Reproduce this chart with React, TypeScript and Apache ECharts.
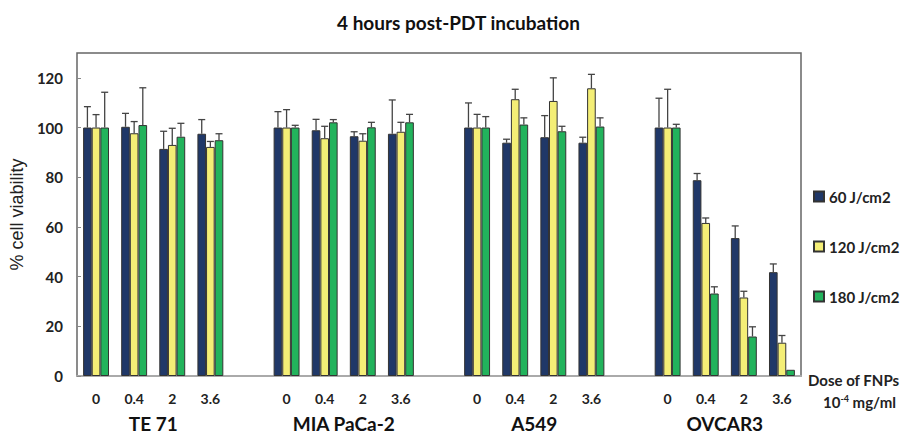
import React, { useEffect, useRef } from "react";
import * as echarts from "echarts";

const cellLines = ["TE 71", "MIA PaCa-2", "A549", "OVCAR3"];
const doses = ["0", "0.4", "2", "3.6"];
const seriesNames = ["60 J/cm2", "120 J/cm2", "180 J/cm2"];

const v60 = [100, 100.3, 91.4, 97.5, 100, 98.9, 96.5, 97.5, 100, 93.9, 96.1, 93.9, 100, 78.8, 55.5, 41.8];
const e60 = [8.4, 5.4, 7.1, 5.7, 6.4, 4.4, 1.8, 13.6, 9.9, 1.4, 8.7, 2.2, 11.8, 2.7, 4.9, 3.3];
const v120 = [100, 97.7, 93, 92.2, 100, 95.7, 94.7, 98.3, 100, 111.4, 110.7, 115.8, 100, 61.6, 31.6, 13.4];
const e120 = [5.2, 4.7, 6.7, 2.2, 7.2, 4.8, 2.8, 3.8, 5.3, 4.0, 9.3, 5.6, 15.4, 2.0, 2.5, 2.9];
const v180 = [100, 101, 96.3, 94.9, 100, 102.1, 100.1, 102.1, 100, 101.2, 98.5, 100.4, 100, 33.2, 15.9, 2.5];
const e180 = [14.2, 15, 5.4, 2.6, 0.9, 1.1, 2.0, 3.2, 4.4, 2.7, 2.0, 3.5, 1.3, 2.7, 3.9, 0];

const yTicks = [0, 20, 40, 60, 80, 100, 120];

const colors = ["#203868", "#F4EE76", "#22B35C"];
const FONT = "Lato, 'Open Sans', sans-serif";

// categories with an empty slot between cell lines
const categories: string[] = cellLines.flatMap((_, g) => (g < cellLines.length - 1 ? [...doses, ""] : doses));

function expand(arr: number[]): (number | string)[] {
  const out: (number | string)[] = [];
  arr.forEach((v, i) => {
    out.push(v);
    if (i % 4 === 3 && i < arr.length - 1) out.push("-");
  });
  return out;
}
function catIndex(i: number) {
  return Math.floor(i / 4) * 5 + (i % 4);
}

const CAT_GAP = 0.32;

export default function App() {
  const ref = useRef<HTMLDivElement>(null);
  useEffect(() => {
    document.body.style.margin = "0";
    const chart = echarts.init(ref.current!, null, { renderer: "svg" });
    const values = [v60, v120, v180];
    const errs = [e60, e120, e180];

    const barSeries = values.map((vals, k) => ({
      name: seriesNames[k],
      type: "bar",
      xAxisIndex: 0,
      yAxisIndex: 0,
      data: expand(vals),
      barGap: "0%",
      barCategoryGap: "32%",
      itemStyle: { color: colors[k], borderColor: "#333", borderWidth: 1 },
      z: 2,
    }));

    const errSeries = values.map((vals, k) => ({
      name: seriesNames[k] + " err",
      type: "custom",
      xAxisIndex: 0,
      yAxisIndex: 0,
      z: 3,
      data: vals.map((v, i) => [catIndex(i), v, errs[k][i]]),
      renderItem: (params: any, api: any) => {
        const idx = api.value(0);
        const val = api.value(1);
        const err = api.value(2);
        if (!err) return null;
        const base = api.coord([idx, val]);
        const top = api.coord([idx, val + err]);
        const band = api.size([1, 0])[0];
        const barW = (band * (1 - CAT_GAP)) / 3;
        const x = base[0] + (k - 1) * barW;
        const st = { stroke: "#444", lineWidth: 1.3 };
        return {
          type: "group",
          children: [
            { type: "line", shape: { x1: x, y1: base[1], x2: x, y2: top[1] }, style: st },
            { type: "line", shape: { x1: x - 3.5, y1: top[1], x2: x + 3.5, y2: top[1] }, style: st },
          ],
        };
      },
    }));

    chart.setOption({
      animation: false,
      textStyle: { fontFamily: FONT },
      title: {
        text: "4 hours post-PDT incubation",
        left: "center",
        top: 8,
        textStyle: { fontSize: 19, fontWeight: "bold", color: "#111", fontFamily: FONT },
      },
      grid: {
        left: 76,
        right: 116,
        top: 53,
        bottom: 61,
        show: true,
        borderColor: "#666",
        borderWidth: 1.5,
        backgroundColor: "transparent",
      },
      legend: {
        data: seriesNames,
        orient: "vertical",
        left: 808,
        top: 184,
        itemWidth: 10,
        itemHeight: 10,
        itemGap: 35,
        icon: "rect",
        textStyle: { fontSize: 15, fontWeight: "bold", color: "#222", fontFamily: FONT },
      },
      xAxis: [
        {
          type: "category",
          data: categories,
          position: "bottom",
          axisLine: { show: true, lineStyle: { color: "#aaa", width: 2 } },
          axisTick: { show: false },
          axisLabel: {
            interval: 0,
            margin: 15,
            fontSize: 14,
            fontWeight: "bold",
            color: "#222",
            fontFamily: FONT,
          },
        },
        {
          type: "value",
          min: 0,
          max: categories.length,
          position: "bottom",
          axisLine: { show: false },
          axisTick: { show: false },
          splitLine: { show: false },
          axisLabel: {
            customValues: cellLines.map((_, g) => g * 5 + 2),
            formatter: (v: number) => cellLines[Math.round((v - 2) / 5)] ?? "",
            margin: 38,
            fontSize: 19,
            fontWeight: "bold",
            color: "#111",
            fontFamily: FONT,
          },
        },
      ],
      yAxis: {
        type: "value",
        min: 0,
        max: 130,
        interval: 20,
        name: "% cell viability",
        nameLocation: "middle",
        nameGap: 48,
        nameTextStyle: { fontSize: 18, color: "#222", fontFamily: "'Liberation Sans', Arial, sans-serif" },
        axisLine: { show: false },
        axisTick: { show: true, inside: true, length: 4, lineStyle: { color: "#888" } },
        splitLine: { show: false },
        axisLabel: {
          showMaxLabel: false,
          margin: 14,
          fontSize: 15,
          fontWeight: "bold",
          color: "#222",
          fontFamily: FONT,
          formatter: (v: number) => (yTicks.includes(v) ? String(v) : ""),
        },
      },
      graphic: [
        {
          type: "text",
          left: 808,
          top: 372,
          style: {
            text: "Dose of FNPs",
            fontSize: 15,
            fontWeight: "bold",
            fill: "#222",
            fontFamily: FONT,
          },
        },
        {
          type: "text",
          left: 823,
          top: 394,
          style: {
            text: "{a|10}{s|-4}{a| mg/ml}",
            fill: "#222",
            rich: {
              a: { fontSize: 15, fontWeight: "bold", fill: "#222", fontFamily: FONT, verticalAlign: "bottom" },
              s: { fontSize: 9, fontWeight: "bold", fill: "#222", fontFamily: FONT, verticalAlign: "top" },
            },
          },
        },
      ],
      series: [...barSeries, ...errSeries],
    });
    return () => chart.dispose();
  }, []);
  return <div ref={ref} style={{ width: 917, height: 437 }} />;
}
